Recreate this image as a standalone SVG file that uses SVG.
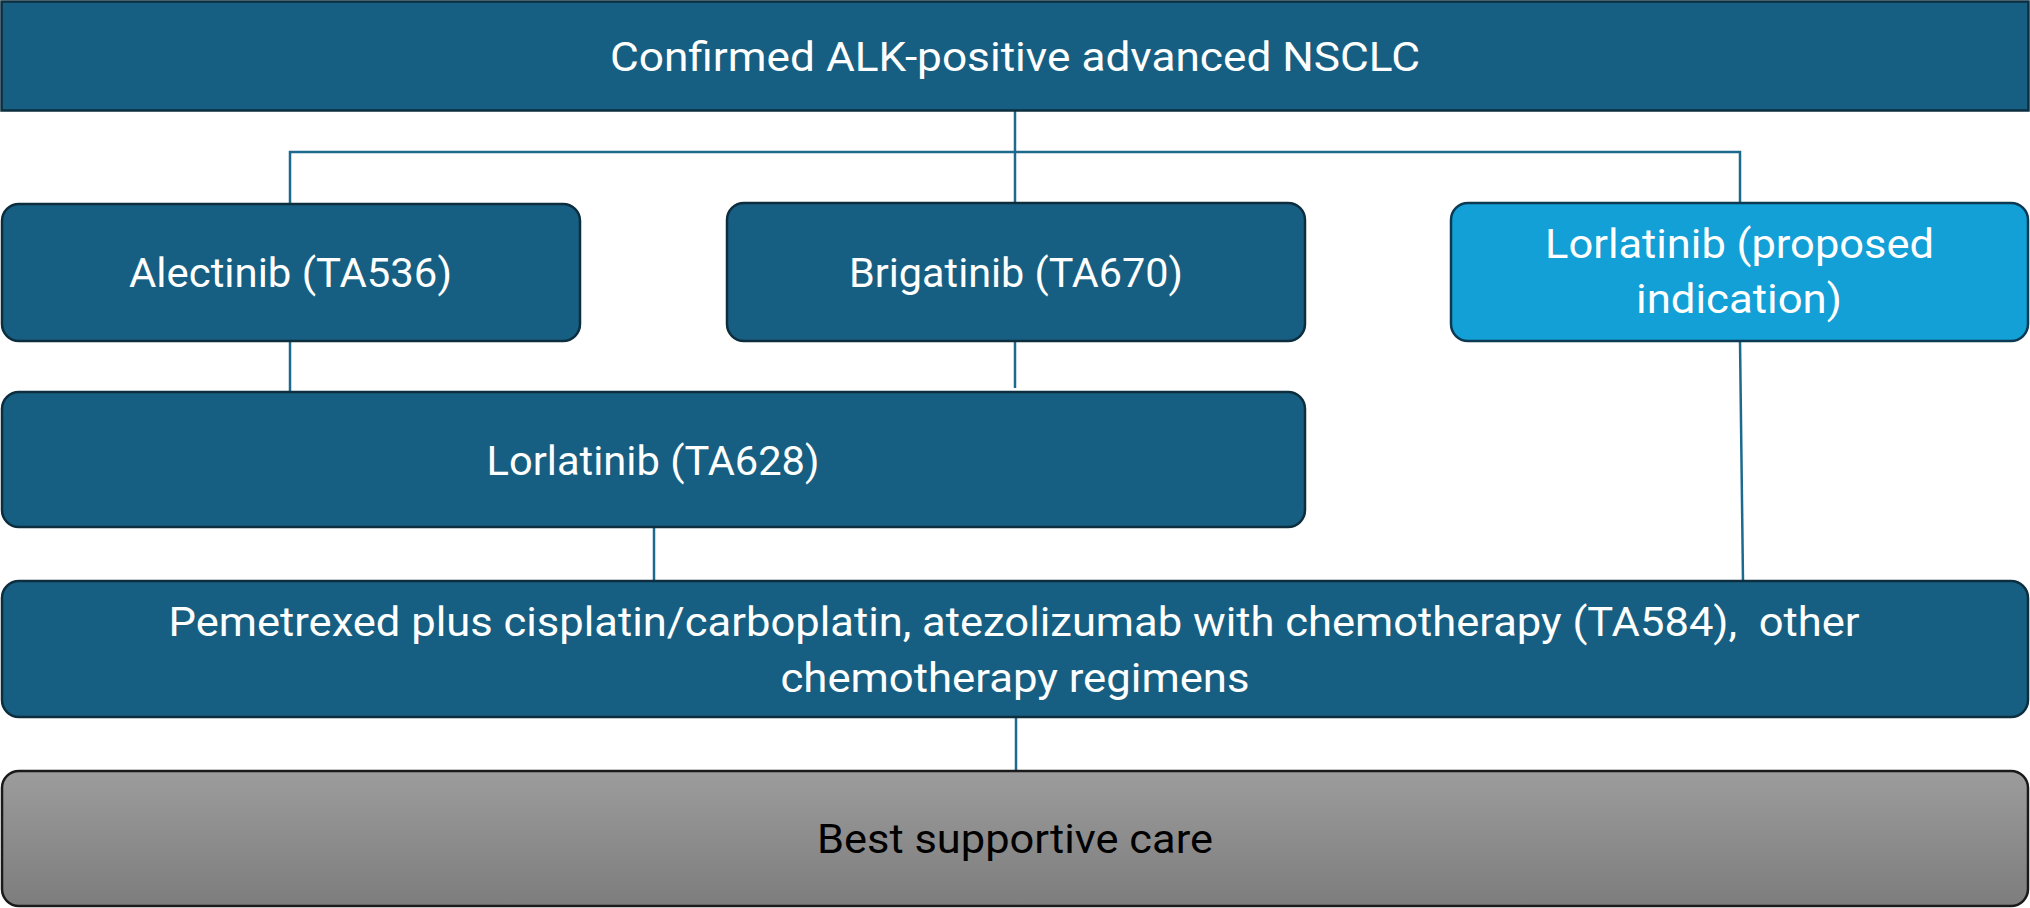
<svg xmlns="http://www.w3.org/2000/svg" width="2030" height="908" viewBox="0 0 2030 908">
<style>
.box{fill:#175f82;stroke:#0c2e3f;stroke-width:2.5}
.prop{fill:#12a0d7;stroke:#0c3a52;stroke-width:2.5}
.grey{fill:url(#gg);stroke:#1a1a1a;stroke-width:2.5}
.t{font-family:Roboto,"Liberation Sans",sans-serif;font-size:41px;fill:#ffffff}
.tb{font-family:Roboto,"Liberation Sans",sans-serif;font-size:41px;fill:#000000}
.c{fill:none;stroke:#1c6a8e;stroke-width:2.5}
</style>
<defs>
<linearGradient id="gg" x1="0" y1="0" x2="0" y2="1">
<stop offset="0" stop-color="#9c9c9c"/>
<stop offset="1" stop-color="#7d7d7d"/>
</linearGradient>
</defs>
<g id="connectors">
<line class="c" x1="1015" y1="111" x2="1015" y2="203"/>
<polyline class="c" points="290,204 290,152 1740,152 1740,203"/>
<line class="c" x1="290" y1="341" x2="290" y2="392"/>
<line class="c" x1="1015" y1="341" x2="1015" y2="388"/>
<line class="c" x1="654" y1="527" x2="654" y2="581"/>
<line class="c" x1="1740" y1="341" x2="1743" y2="581"/>
<line class="c" x1="1016" y1="717" x2="1016" y2="771"/>
</g>
<g id="top">
<rect class="box" x="1.5" y="1.5" width="2027" height="109"/>
<text class="t" x="1015" y="71" text-anchor="middle" textLength="810" lengthAdjust="spacingAndGlyphs">Confirmed ALK-positive advanced NSCLC</text>
</g>
<g id="alectinib">
<rect class="box" x="2" y="204" width="578" height="137" rx="17"/>
<text class="t" x="290.5" y="287" text-anchor="middle" textLength="323" lengthAdjust="spacingAndGlyphs">Alectinib (TA536)</text>
</g>
<g id="brigatinib">
<rect class="box" x="727" y="203" width="578" height="138" rx="17"/>
<text class="t" x="1016" y="287" text-anchor="middle" textLength="334" lengthAdjust="spacingAndGlyphs">Brigatinib (TA670)</text>
</g>
<g id="lorlatinib-proposed">
<rect class="prop" x="1451" y="203" width="577" height="138" rx="17"/>
<text class="t" x="1739.5" y="258" text-anchor="middle" textLength="389" lengthAdjust="spacingAndGlyphs">Lorlatinib (proposed</text>
<text class="t" x="1739" y="313" text-anchor="middle" textLength="206" lengthAdjust="spacingAndGlyphs">indication)</text>
</g>
<g id="lorlatinib-ta628">
<rect class="box" x="2" y="392" width="1303" height="135" rx="17"/>
<text class="t" x="653" y="475" text-anchor="middle" textLength="333" lengthAdjust="spacingAndGlyphs">Lorlatinib (TA628)</text>
</g>
<g id="chemotherapy">
<rect class="box" x="2" y="581" width="2026" height="136" rx="17"/>
<text class="t" x="1014" y="636" text-anchor="middle" textLength="1691" lengthAdjust="spacingAndGlyphs" xml:space="preserve">Pemetrexed plus cisplatin/carboplatin, atezolizumab with chemotherapy (TA584),  other</text>
<text class="t" x="1015" y="692" text-anchor="middle" textLength="469" lengthAdjust="spacingAndGlyphs">chemotherapy regimens</text>
</g>
<g id="best-supportive-care">
<rect class="grey" x="2" y="771" width="2026" height="135" rx="17"/>
<text class="tb" x="1015" y="853" text-anchor="middle" textLength="396" lengthAdjust="spacingAndGlyphs">Best supportive care</text>
</g>
</svg>
